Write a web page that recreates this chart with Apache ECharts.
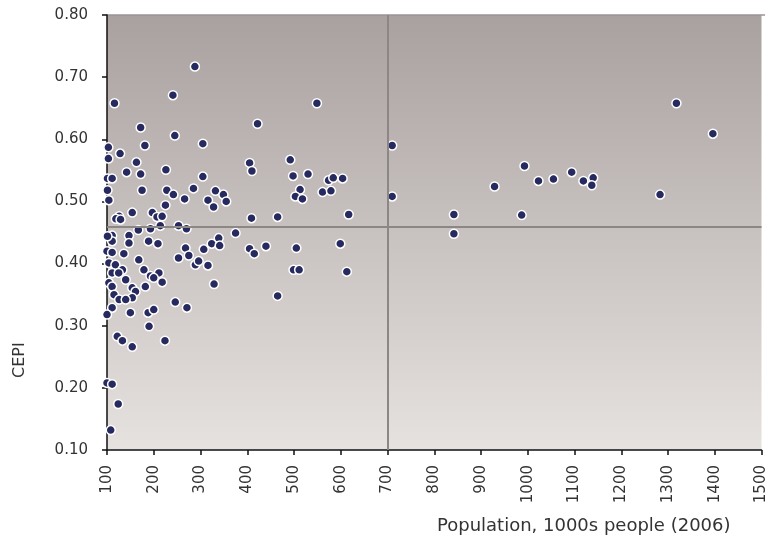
<!DOCTYPE html>
<html>
<head>
<meta charset="utf-8">
<script src="https://cdn.jsdelivr.net/npm/echarts@6/dist/echarts.min.js"></script>
<style>html,body{margin:0;padding:0;background:#fff}#c{width:769px;height:544px}</style>
</head>
<body>
<div id="c"></div>
<script>
// Population (1000s people, 2006)
const population = [
  288,241,116,549,422,172,245,181,305,103,128,103,163,405,492,710,226,410,142,172,
  305,498,530,101,111,574,584,604,101,175,228,242,285,266,104,225,332,349,355,316,
  328,513,503,518,561,579,710,617,154,197,207,218,214,126,119,129,409,465,253,270,
  167,147,193,111,375,842,842,111,147,189,209,101,268,307,324,339,341,253,275,289,
  296,316,100,111,136,168,104,118,133,111,125,140,104,111,179,193,211,200,218,154,
  161,182,115,329,154,126,140,111,100,150,188,200,246,271,190,122,133,154,224,100,
  111,124,108,405,415,440,505,599,499,511,613,465,1318,1396,993,929,1023,1055,1094,1119,
  1140,1137,1283,987
];
// CEPI
const cepi = [
  0.717,0.671,0.658,0.658,0.625,0.619,0.606,0.590,0.593,0.587,0.577,0.569,0.563,0.562,0.567,0.590,0.551,0.549,0.547,0.544,
  0.540,0.541,0.544,0.537,0.537,0.534,0.538,0.537,0.518,0.518,0.518,0.511,0.521,0.504,0.502,0.494,0.517,0.511,0.500,0.502,
  0.491,0.519,0.508,0.504,0.515,0.517,0.508,0.479,0.482,0.482,0.475,0.476,0.461,0.476,0.472,0.471,0.473,0.475,0.461,0.456,
  0.454,0.445,0.456,0.445,0.449,0.479,0.448,0.436,0.433,0.436,0.432,0.444,0.425,0.423,0.432,0.441,0.429,0.409,0.413,0.398,
  0.404,0.397,0.420,0.418,0.416,0.406,0.401,0.398,0.390,0.385,0.385,0.374,0.369,0.363,0.390,0.380,0.385,0.377,0.370,0.361,
  0.355,0.363,0.350,0.367,0.345,0.342,0.342,0.329,0.318,0.321,0.321,0.326,0.338,0.329,0.299,0.283,0.276,0.266,0.276,0.208,
  0.206,0.174,0.132,0.424,0.416,0.428,0.425,0.432,0.390,0.390,0.387,0.348,0.658,0.609,0.557,0.524,0.533,0.536,0.547,0.533,
  0.538,0.526,0.511,0.478
];
const refPopulation = 700;
const refCepi = 0.455;
const xName = 'Population, 1000s people (2006)';
const yName = 'CEPI';

const points = population.map((p, i) => [p, cepi[i]]);

const chart = echarts.init(document.getElementById('c'), null, {renderer: 'canvas'});
const font = 'DejaVu Sans';
chart.setOption({
  animation: false,
  backgroundColor: '#ffffff',
  grid: {
    left: 107, right: 4, top: 15, bottom: 94,
    show: true,
    borderWidth: 0,
    backgroundColor: new echarts.graphic.LinearGradient(0, 0, 0, 1, [
      {offset: 0, color: '#a9a1a0'},
      {offset: 1, color: '#e6e2e0'}
    ])
  },
  xAxis: {
    type: 'value', min: 100, max: 1500, interval: 100,
    axisLine: {show: true, onZero: false, lineStyle: {color: '#111', width: 1.5}},
    axisTick: {show: true, length: 5, lineStyle: {color: '#111', width: 1.5}},
    splitLine: {show: false},
    axisLabel: {rotate: 90, margin: 15, color: '#333', fontFamily: font, fontSize: 15,
      formatter: v => String(v)}
  },
  yAxis: {
    type: 'value', min: 0.1, max: 0.8, interval: 0.1,
    axisLine: {show: true, onZero: false, lineStyle: {color: '#111', width: 1.5}},
    axisTick: {show: true, length: 5, lineStyle: {color: '#111', width: 1.5}},
    splitLine: {show: false},
    axisLabel: {margin: 19, color: '#333', fontFamily: font, fontSize: 15,
      formatter: v => v.toFixed(2)}
  },
  graphic: [
    {type: 'text', left: 437, top: 517, style: {text: xName, font: '18px "DejaVu Sans"', fill: '#333'}},
    {type: 'text', x: 12, y: 378, rotation: Math.PI / 2, style: {text: yName, font: '16px "DejaVu Sans"', fill: '#333'}},
    {type: 'line', shape: {x1: 107, y1: 15, x2: 765, y2: 15}, style: {stroke: '#9a9594', lineWidth: 1.5}}
  ],
  series: [{
    type: 'scatter',
    data: points,
    symbol: 'circle',
    symbolSize: 9,
    itemStyle: {color: '#272a5e', borderColor: '#ffffff', borderWidth: 1.5, opacity: 1},
    markLine: {
      silent: true,
      symbol: ['none', 'none'],
      label: {show: false},
      lineStyle: {color: '#8c8685', width: 2, type: 'solid'},
      data: [{xAxis: refPopulation}, {yAxis: refCepi}]
    },
    z: 3
  }]
});
</script>
</body>
</html>
